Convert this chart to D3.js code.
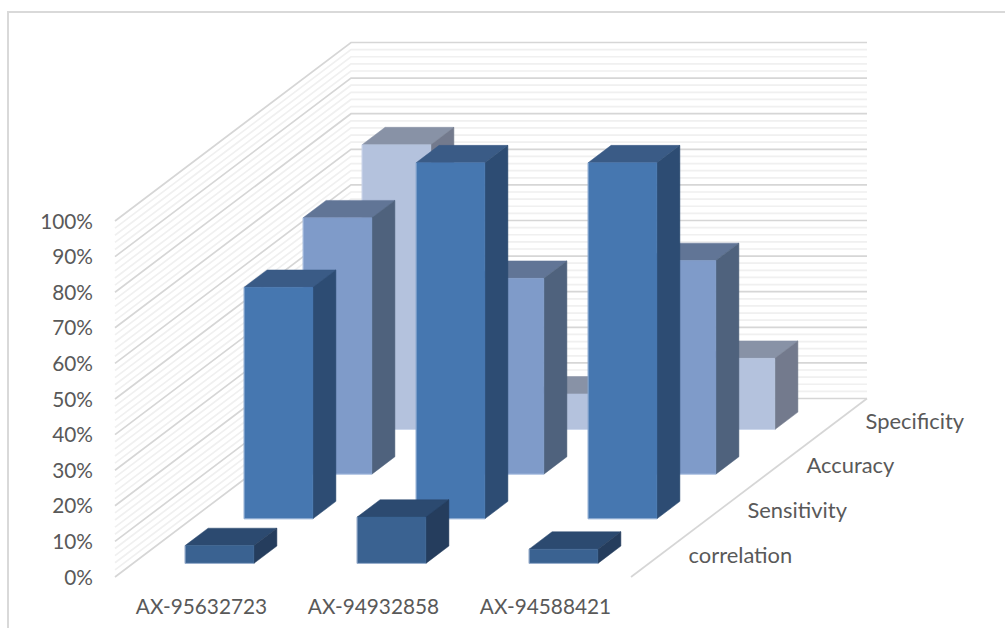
<!DOCTYPE html>
<html>
<head>
<meta charset="utf-8">
<script src="https://cdnjs.cloudflare.com/ajax/libs/d3/7.8.5/d3.min.js"></script>
<style>
  html, body { margin: 0; padding: 0; background: #fff; }
  svg { display: block; }
  text { font-family: Lato, "Open Sans", sans-serif; font-size: 20.8px; fill: #595959; }
  .metric-labels text { font-size: 21.9px; }
</style>
</head>
<body>
<svg id="chart" width="1005" height="628"></svg>
<script>
// Markers along the width axis, metrics along the depth axis (front to back).
const markers = ["AX-95632723", "AX-94932858", "AX-94588421"];
const metrics = ["correlation", "Sensitivity", "Accuracy", "Specificity"];

const correlation = [0.05, 0.13, 0.04];
const sensitivity = [0.65, 1.00, 1.00];
const accuracy    = [0.72, 0.55, 0.60];
const specificity = [0.80, 0.10, 0.20];

const seriesValues = [correlation, sensitivity, accuracy, specificity];

const faceColors = ["#3a6291", "#4677b0", "#7f9bc9", "#b4c2dd"];
const topColors  = ["#2c4a70", "#3a5b86", "#617596", "#8892a6"];
const sideColors = ["#253d5d", "#2d4c73", "#4f627d", "#737a8d"];
const edgeColors = ["#a9bcd8", "#a6bede", "#b4c8e6", "#cdd8ec"];

const svg = d3.select("#chart");

// Frame around the chart area
svg.append("path")
  .attr("d", "M8,628V12H1005")
  .attr("fill", "none").attr("stroke", "#d9d9d9").attr("stroke-width", 2);

// Front plane of the plot box
const plotLeft = 115;
const x = d3.scaleBand().domain(markers).range([115.5, 631.5]).paddingInner(0.6).paddingOuter(0.3);
const y = d3.scaleLinear().domain([0, 1]).range([577, 221]);

// Depth runs up and to the right in an oblique projection
const depthTotal = { dx: 236, dy: -178.5 };
const z = d3.scaleBand().domain(metrics).range([0, 1]).paddingInner(0.61).paddingOuter(0.305);
const zStep = d3.scalePoint().domain(metrics).range([0.125, 0.875]);

const project = (px, py, depth) => [px + depth * depthTotal.dx, py + depth * depthTotal.dy];
const poly = pts => "M" + pts.map(p => p.join(",")).join("L") + "Z";

// Walls: back and left gridlines, ten majors with four minors between each
const gridStops = d3.range(0, 51).map(i => i / 50);
const gridG = svg.append("g").attr("fill", "none");
const isMajor = v => Math.round(v * 50) % 5 === 0;
const ordered = gridStops.slice().sort((a, b) => isMajor(a) - isMajor(b));
ordered.forEach(v => {
  const front = [plotLeft, y(v)];
  const corner = project(front[0], front[1], 1);
  const right = [631 + depthTotal.dx, corner[1]];
  gridG.append("path")
    .attr("d", d3.line()([front, corner, right]))
    .attr("stroke", isMajor(v) ? "#d6d6d6" : "#f0f0f0")
    .attr("stroke-width", 1.7);
});

// Right edge of the floor
const floorStart = [631, y(0)];
gridG.append("path")
  .attr("d", d3.line()([floorStart, project(floorStart[0], floorStart[1], 1)]))
  .attr("stroke", "#d6d6d6").attr("stroke-width", 1.7);

// Bars, painted from the back row forward
const barsG = svg.append("g");
d3.range(metrics.length - 1, -1, -1).forEach(s => {
  const metric = metrics[s];
  markers.forEach((m, i) => {
    const v = seriesValues[s][i];
    const x0 = x(m), x1 = x0 + x.bandwidth();
    const yb = y(0), yt = y(v);
    const d0 = z(metric), d1 = d0 + z.bandwidth();
    const A = project(x0, yt, d0), B = project(x1, yt, d0);
    const C = project(x1, yb, d0), D = project(x0, yb, d0);
    const E = project(x0, yt, d1), F = project(x1, yt, d1);
    const G = project(x1, yb, d1);
    const bar = barsG.append("g");
    bar.append("path").attr("d", poly([A, E, F, B])).attr("fill", topColors[s])
      .attr("stroke", topColors[s]).attr("stroke-width", 0.5);
    bar.append("path").attr("d", poly([B, F, G, C])).attr("fill", sideColors[s])
      .attr("stroke", sideColors[s]).attr("stroke-width", 0.5);
    bar.append("path").attr("d", poly([A, B, C, D])).attr("fill", faceColors[s])
      .attr("stroke", faceColors[s]).attr("stroke-width", 0.5);
    // Pale rim along the lower and left edges of the front face
    bar.append("path").attr("d", d3.line()([A, D, C]))
      .attr("fill", "none").attr("stroke", edgeColors[s]).attr("stroke-width", 0.8);
  });
});

// Value axis on the front-left corner
const yAxis = d3.axisLeft(y)
  .tickValues(d3.range(0, 11).map(d => d / 10))
  .tickFormat(d3.format(".0%"))
  .tickSize(0).tickPadding(22);
svg.append("g").attr("transform", "translate(115,0.5)").call(yAxis)
  .call(g => g.select(".domain").remove())
  .call(g => g.selectAll("text").attr("font-size", null).attr("font-family", null).attr("fill", null));

// Marker names below the front edge
const xAxis = d3.axisBottom(x).tickSize(0).tickPadding(22);
svg.append("g").attr("transform", "translate(0,577)").call(xAxis)
  .call(g => g.select(".domain").remove())
  .call(g => g.selectAll("text").attr("font-size", null).attr("font-family", null).attr("fill", null));

// Metric names along the right floor edge
svg.append("g").attr("class", "metric-labels").selectAll("text").data(metrics).join("text")
  .attr("x", d => project(631, y(0), zStep(d))[0] + 28)
  .attr("y", d => project(631, y(0), zStep(d))[1] + 1)
  .attr("dy", "0.32em")
  .text(d => d);
</script>
</body>
</html>
